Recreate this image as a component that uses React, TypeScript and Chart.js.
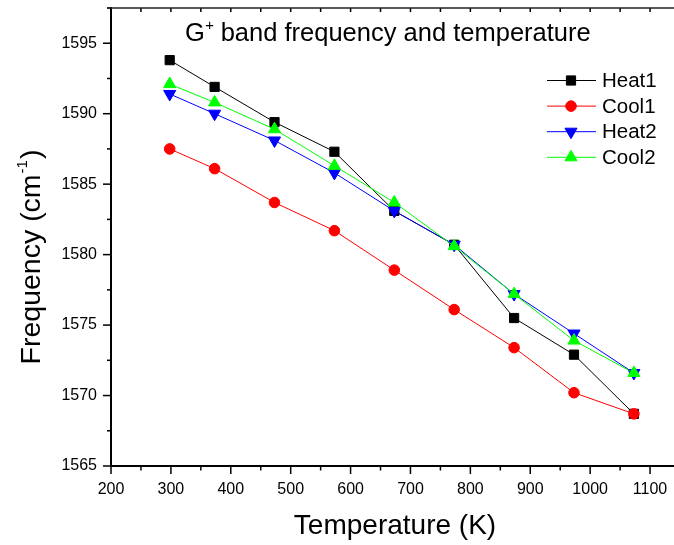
import React, { useEffect, useRef } from 'react';
import { Chart, registerables } from 'chart.js';

Chart.register(...registerables);

// ---- data ----
const temperatures = [298, 373, 473, 573, 673, 773, 873, 973, 1073];
const heat1 = [1593.8, 1591.9, 1589.4, 1587.3, 1583.1, 1580.7, 1575.5, 1572.9, 1568.7];
const cool1 = [1587.5, 1586.1, 1583.7, 1581.7, 1578.9, 1576.1, 1573.4, 1570.2, 1568.7];
const heat2 = [1591.4, 1590.0, 1588.1, 1585.8, 1583.1, 1580.7, 1577.2, 1574.4, 1571.6];
const cool2 = [1592.1, 1590.8, 1588.9, 1586.3, 1583.7, 1580.6, 1577.2, 1573.9, 1571.6];
const seriesNames = ['Heat1', 'Cool1', 'Heat2', 'Cool2'];
const xTickLabels = [200, 300, 400, 500, 600, 700, 800, 900, 1000, 1100];
const yTickLabels = [1565, 1570, 1575, 1580, 1585, 1590, 1595];

const FONT = "'Liberation Sans', Arial, sans-serif";

type Style = { color: string; shape: string; radius: number; rotation: number };
const styles: Style[] = [
  { color: '#000000', shape: 'rect', radius: 6.5, rotation: 0 },
  { color: '#ff0000', shape: 'circle', radius: 5.3, rotation: 0 },
  { color: '#0000ff', shape: 'triangle', radius: 7, rotation: 180 },
  { color: '#00ff00', shape: 'triangle', radius: 7, rotation: 0 },
];

function drawMarker(ctx: CanvasRenderingContext2D, s: Style, x: number, y: number) {
  ctx.save();
  ctx.fillStyle = s.color;
  ctx.strokeStyle = s.color;
  ctx.lineWidth = 1;
  ctx.beginPath();
  const r = s.radius;
  if (s.shape === 'rect') {
    const h = Math.SQRT1_2 * r;
    ctx.rect(x - h, y - h, 2 * h, 2 * h);
  } else if (s.shape === 'circle') {
    ctx.arc(x, y, r, 0, Math.PI * 2);
  } else {
    const rot = (s.rotation * Math.PI) / 180;
    for (let k = 0; k < 3; k++) {
      const ang = rot + (k * 2 * Math.PI) / 3;
      const px = x + Math.sin(ang) * r;
      const py = y - Math.cos(ang) * r;
      if (k === 0) ctx.moveTo(px, py);
      else ctx.lineTo(px, py);
    }
    ctx.closePath();
  }
  ctx.fill();
  ctx.stroke();
  ctx.restore();
}

const near = (v: number, m: number) => {
  const r = ((v % m) + m) % m;
  return r < 1e-6 || m - r < 1e-6;
};

const originPlugin = {
  id: 'originStyle',
  beforeDatasetsDraw(chart: any) {
    const { ctx, chartArea: a } = chart;
    const x = chart.scales.x;
    const y = chart.scales.y;
    const line = (x1: number, y1: number, x2: number, y2: number) => {
      ctx.beginPath();
      ctx.moveTo(x1, y1);
      ctx.lineTo(x2, y2);
      ctx.stroke();
    };
    ctx.save();
    ctx.strokeStyle = '#000';
    ctx.lineWidth = 1.5;
    x.ticks.forEach((t: any) => {
      const px = x.getPixelForValue(t.value);
      const major = near(t.value, 100);
      line(px, a.bottom, px, a.bottom + (major ? 8 : 4.5));
      line(px, a.top, px, a.top + 4);
    });
    y.ticks.forEach((t: any) => {
      const py = y.getPixelForValue(t.value);
      const major = near(t.value, 5);
      line(a.left, py, a.left - (major ? 8 : 4), py);
    });
    ctx.lineWidth = 2;
    line(a.left, a.top - 1, a.left, a.bottom + 1);
    line(a.left - 1, a.bottom, a.right + 1, a.bottom);
    ctx.lineWidth = 1.5;
    ctx.strokeStyle = '#222';
    line(a.left - 4, a.top, a.right, a.top);
    line(a.right, a.top, a.right, a.bottom);
    ctx.restore();
  },
  afterDraw(chart: any) {
    const { ctx } = chart;
    ctx.save();
    ctx.fillStyle = '#000';
    ctx.textAlign = 'left';
    ctx.textBaseline = 'alphabetic';

    // title with superscript
    ctx.font = `25.5px ${FONT}`;
    const t1 = 'G';
    const t2 = ' band frequency and temperature';
    let tx = 185;
    const ty = 41;
    ctx.fillText(t1, tx, ty);
    tx += ctx.measureText(t1).width;
    ctx.font = `15px ${FONT}`;
    ctx.fillText('+', tx + 0.5, ty - 11);
    tx += ctx.measureText('+').width;
    ctx.font = `25.5px ${FONT}`;
    ctx.fillText(t2, tx, ty);

    // x axis title
    ctx.font = `28px ${FONT}`;
    ctx.textAlign = 'center';
    ctx.fillText('Temperature (K)', 395, 534);

    // y axis title (rotated) with superscript
    ctx.save();
    ctx.translate(40, 258);
    ctx.rotate(-Math.PI / 2);
    ctx.textAlign = 'left';
    const a1 = 'Frequency (cm';
    const sup = '-1';
    const a3 = ')';
    ctx.font = `28.5px ${FONT}`;
    const w1 = ctx.measureText(a1).width;
    const w3 = ctx.measureText(a3).width;
    ctx.font = `15px ${FONT}`;
    const w2 = ctx.measureText(sup).width;
    let sx = -(w1 + w2 + w3) / 2;
    ctx.font = `28.5px ${FONT}`;
    ctx.fillText(a1, sx, 0);
    sx += w1;
    ctx.font = `15px ${FONT}`;
    ctx.fillText(sup, sx + 1, -13);
    sx += w2 + 2;
    ctx.font = `28.5px ${FONT}`;
    ctx.fillText(a3, sx, 0);
    ctx.restore();

    // legend
    ctx.font = `20.5px ${FONT}`;
    ctx.textAlign = 'left';
    ctx.textBaseline = 'middle';
    seriesNames.forEach((name, i) => {
      const s = styles[i];
      const cy = 80.5 + i * 25.6;
      ctx.strokeStyle = s.color;
      ctx.lineWidth = 1;
      ctx.beginPath();
      ctx.moveTo(547, cy);
      ctx.lineTo(596, cy);
      ctx.stroke();
      drawMarker(ctx, s, 571, cy);
      ctx.fillStyle = '#000';
      ctx.fillText(name, 602, cy + 1);
    });
    ctx.restore();
  },
};

export default function App() {
  const ref = useRef<HTMLCanvasElement>(null);
  useEffect(() => {
    document.body.style.margin = '0';
    const canvas = ref.current;
    if (!canvas) return;
    const series = [heat1, cool1, heat2, cool2];
    const datasets = series.map((vals, i) => ({
      label: seriesNames[i],
      data: vals.map((v, k) => ({ x: temperatures[k], y: v })),
      borderColor: styles[i].color,
      backgroundColor: styles[i].color,
      pointBackgroundColor: styles[i].color,
      pointBorderColor: styles[i].color,
      pointStyle: styles[i].shape,
      pointRadius: styles[i].radius,
      pointRotation: styles[i].rotation,
      pointBorderWidth: 1,
      borderWidth: 1,
      tension: 0,
      fill: false,
      order: 3 - i,
    }));
    const chart = new Chart(canvas, {
      type: 'line',
      data: { datasets },
      plugins: [originPlugin],
      options: {
        animation: false,
        responsive: false,
        devicePixelRatio: 1,
        layout: { padding: { left: 0, top: 8, right: 10, bottom: 0 } },
        plugins: { legend: { display: false }, tooltip: { enabled: false }, title: { display: false } },
        scales: {
          x: {
            type: 'linear',
            min: 200,
            max: 1150,
            grid: { display: false, drawTicks: false },
            border: { display: false },
            afterFit: (s: any) => {
              s.height = 79;
              s.paddingLeft = 0;
              s.paddingRight = 0;
            },
            ticks: {
              stepSize: 50,
              autoSkip: false,
              maxRotation: 0,
              padding: 14,
              color: '#000',
              font: { family: FONT, size: 16 },
              callback: (v: any) => (xTickLabels.includes(Number(v)) ? String(v) : ''),
            },
          },
          y: {
            type: 'linear',
            min: 1565,
            max: 1597.5,
            grid: { display: false, drawTicks: false },
            border: { display: false },
            afterFit: (s: any) => {
              s.width = 111;
              s.paddingTop = 0;
              s.paddingBottom = 0;
            },
            ticks: {
              stepSize: 2.5,
              autoSkip: false,
              padding: 14,
              color: '#000',
              font: { family: FONT, size: 16 },
              callback: (v: any) => (yTickLabels.some((t) => Math.abs(t - Number(v)) < 1e-6) ? String(Math.round(Number(v))) : ''),
            },
          },
        },
      } as any,
    });
    return () => chart.destroy();
  }, []);
  return (
    <div style={{ position: 'absolute', left: 0, top: 0, width: 674, height: 545, overflow: 'hidden', background: '#fff' }}>
      <canvas ref={ref} width={690} height={545} style={{ width: 690, height: 545, display: 'block' }} />
    </div>
  );
}
